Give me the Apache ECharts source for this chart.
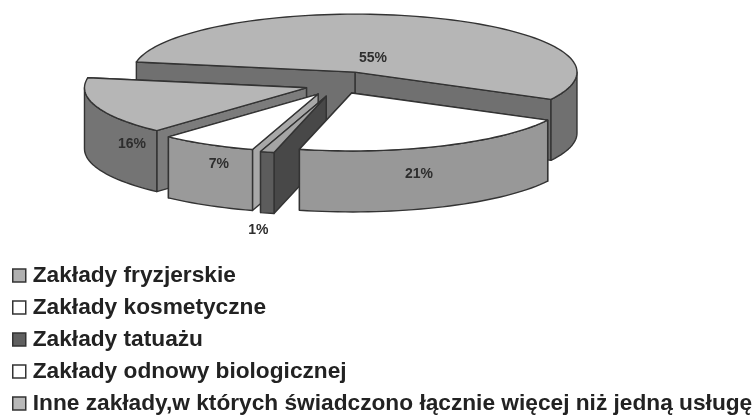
<!DOCTYPE html>
<html><head><meta charset="utf-8">
<style>html,body{margin:0;padding:0;background:#fff}#c{width:755px;height:415px}</style>
<script src="https://cdn.jsdelivr.net/npm/echarts@6/dist/echarts.min.js"></script>
</head><body><div id="c"></div>
<script>
// data, clockwise from the left end of the largest slice
const categories = ['Zakłady fryzjerskie','Inne zakłady,w których świadczono łącznie więcej niż jedną usługę','Zakłady odnowy biologicznej','Zakłady tatuażu','Zakłady kosmetyczne'];
const values = [55,16,7,1,21];
const legendOrder = ['Zakłady fryzjerskie','Zakłady kosmetyczne','Zakłady tatuażu','Zakłady odnowy biologicznej','Inne zakłady,w których świadczono łącznie więcej niż jedną usługę'];
// clockwise order as drawn around the pie
const clockwise = [0,4,3,2,1];
// styling per slice (same index as categories)
const topColors  = ['#b6b6b6','#b6b6b6','#ffffff','#a4a4a4','#ffffff'];
const sideColors = ['#707070','#747474','#9a9a9a','#5c5c5c','#989898'];
const cutColors  = ['#707070','#7c7c7c','#a8a8a8','#484848','#989898'];
const legendColors = {'Zakłady fryzjerskie':'#b0b0b0','Zakłady kosmetyczne':'#ffffff','Zakłady tatuażu':'#606060','Zakłady odnowy biologicznej':'#ffffff'};
legendColors[categories[1]] = '#b8b8b8';
const paintZ = [1,2,3,4,5];
const explode = [0.235,0.15,0.18,0.2,0.15];
const labelRadial = [0.25,0.83,0.9,1.15,0.74];
const labelDrop = [0,41,25,70,42];
// layout of the pie
const CX=338, CY=85, RX=222, RY=58, DEPTH=61, START=190;
const EDGE='#333333';
const total = values.reduce((a,b)=>a+b,0);

function sliceAngles(i){
  let a=START;
  for(const k of clockwise){
    const sweep=values[k]/total*360;
    if(k===i) return [a,a+sweep];
    a+=sweep;
  }
}
function pt(ax,ay,t,d){const r=t*Math.PI/180;return [ax+RX*Math.cos(r),ay+RY*Math.sin(r)+(d||0)];}
function arcPts(ax,ay,t0,t1,d){
  const out=[],n=Math.max(2,Math.ceil((t1-t0)/2));
  for(let j=0;j<=n;j++) out.push(pt(ax,ay,t0+(t1-t0)*j/n,d));
  return out;
}
function renderer(i){
  return function(){
    const [t0,t1]=sliceAngles(i), mid=(t0+t1)/2*Math.PI/180;
    const ax=CX+explode[i]*RX*Math.cos(mid), ay=CY+explode[i]*RY*Math.sin(mid);
    const lineStyle={stroke:EDGE,lineWidth:1.4,lineJoin:'round'};
    const poly=(points,fill)=>({type:'polygon',shape:{points},style:Object.assign({fill},lineStyle)});
    const children=[];
    const cut=(t)=>{const p=pt(ax,ay,t);return poly([[ax,ay],p,[p[0],p[1]+DEPTH],[ax,ay+DEPTH]],cutColors[i]);};
    children.push(cut(t1),cut(t0));
    // outer wall: only the part of the rim facing the viewer
    [[0,180],[360,540]].forEach(([lo,hi])=>{
      const a=Math.max(t0,lo),b=Math.min(t1,hi);
      if(b>a){
        const upper=arcPts(ax,ay,a,b,0),lower=arcPts(ax,ay,a,b,DEPTH).reverse();
        children.push(poly(upper.concat(lower),sideColors[i]));
      }
    });
    children.push(poly([[ax,ay]].concat(arcPts(ax,ay,t0,t1,0)),topColors[i]));
    const lx=ax+labelRadial[i]*RX*Math.cos(mid), ly=ay+labelRadial[i]*RY*Math.sin(mid)+labelDrop[i];
    children.push({type:'text',x:lx,y:ly,style:{text:values[i]+'%',fill:'#2e2e2e',font:'bold 14px "Liberation Sans"',align:'center',verticalAlign:'middle'}});
    return {type:'group',children};
  };
}
const series = categories.map((name,i)=>({
  type:'custom',name,coordinateSystem:'none',z:paintZ[i],silent:true,animation:false,
  data:[[values[i]]],renderItem:renderer(i)
}));
const chart = echarts.init(document.getElementById('c'),null,{renderer:'canvas'});
chart.setOption({
  backgroundColor:'#ffffff',animation:false,
  legend:{
    orient:'vertical',left:12,top:264,padding:0,selectedMode:false,itemGap:9,itemWidth:13,itemHeight:13,
    icon:'rect',
    textStyle:{fontFamily:'Liberation Sans',fontWeight:'bold',fontSize:22.7,color:'#222222',padding:[0,0,0,2]},
    data:legendOrder.map(name=>({name,icon:'rect',itemStyle:{color:legendColors[name],borderColor:'#333333',borderWidth:1.5}}))
  },
  series
});
</script></body></html>
